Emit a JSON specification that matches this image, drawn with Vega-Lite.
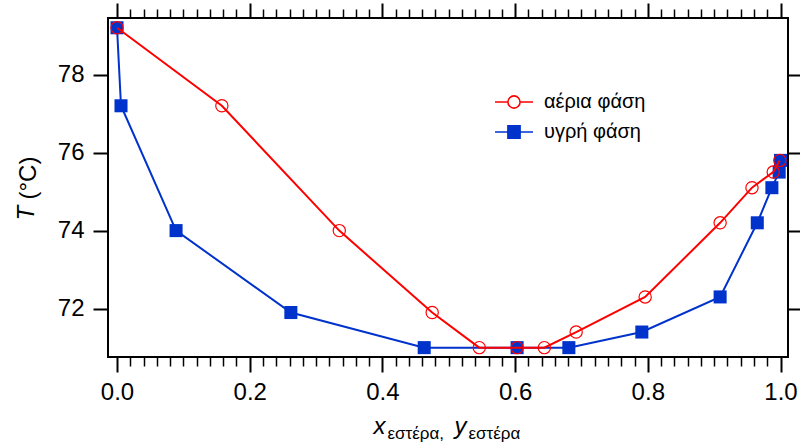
{
  "$schema": "https://vega.github.io/schema/vega-lite/v6.json",
  "width": 680,
  "height": 339,
  "autosize": {"type": "none"},
  "padding": {"left": 108, "top": 18, "right": 12, "bottom": 86},
  "background": "white",
  "config": {
    "view": {"stroke": "black", "strokeWidth": 2},
    "axis": {
      "grid": false,
      "domain": false,
      "tickColor": "black",
      "labelColor": "black",
      "titleColor": "black",
      "labelFont": "Liberation Sans",
      "titleFont": "Liberation Sans",
      "labelFontSize": 24,
      "titleFontSize": 24,
      "titleFontWeight": "normal",
      "labelFlush": false,
      "labelOverlap": false
    }
  },
  "data": {
    "values": [
      {"phase": "αέρια φάση", "x": 0.0, "T": 79.2},
      {"phase": "αέρια φάση", "x": 0.158, "T": 77.2},
      {"phase": "αέρια φάση", "x": 0.335, "T": 74.0},
      {"phase": "αέρια φάση", "x": 0.475, "T": 71.9},
      {"phase": "αέρια φάση", "x": 0.546, "T": 71.0},
      {"phase": "αέρια φάση", "x": 0.603, "T": 71.0},
      {"phase": "αέρια φάση", "x": 0.644, "T": 71.0},
      {"phase": "αέρια φάση", "x": 0.692, "T": 71.4},
      {"phase": "αέρια φάση", "x": 0.796, "T": 72.3},
      {"phase": "αέρια φάση", "x": 0.909, "T": 74.2},
      {"phase": "αέρια φάση", "x": 0.957, "T": 75.1},
      {"phase": "αέρια φάση", "x": 0.989, "T": 75.5},
      {"phase": "αέρια φάση", "x": 0.999, "T": 75.8},
      {"phase": "υγρή φάση", "x": 0.0, "T": 79.2},
      {"phase": "υγρή φάση", "x": 0.006, "T": 77.2},
      {"phase": "υγρή φάση", "x": 0.089, "T": 74.0},
      {"phase": "υγρή φάση", "x": 0.262, "T": 71.9},
      {"phase": "υγρή φάση", "x": 0.463, "T": 71.0},
      {"phase": "υγρή φάση", "x": 0.603, "T": 71.0},
      {"phase": "υγρή φάση", "x": 0.681, "T": 71.0},
      {"phase": "υγρή φάση", "x": 0.791, "T": 71.4},
      {"phase": "υγρή φάση", "x": 0.909, "T": 72.3},
      {"phase": "υγρή φάση", "x": 0.965, "T": 74.2},
      {"phase": "υγρή φάση", "x": 0.987, "T": 75.1},
      {"phase": "υγρή φάση", "x": 0.998, "T": 75.5},
      {"phase": "υγρή φάση", "x": 1.0, "T": 75.8}
    ]
  },
  "layer": [
    {
      "transform": [{"filter": "datum.phase === 'υγρή φάση'"}],
      "mark": {"type": "line", "strokeWidth": 2},
      "encoding": {
        "x": {
          "field": "x", "type": "quantitative",
          "scale": {"domain": [-0.0136, 1.0113], "nice": false, "zero": false},
          "axis": {
            "orient": "bottom", "values": [0, 0.2, 0.4, 0.6, 0.8, 1.0], "format": ".1f",
            "tickSize": 15, "tickWidth": 2, "labelPadding": 8,
            "title": "x", "titleFontStyle": "italic", "titleX": 265, "titleY": 76,
            "titleAlign": "left", "titleBaseline": "alphabetic"
          }
        },
        "y": {
          "field": "T", "type": "quantitative",
          "scale": {"domain": [70.76, 79.45], "nice": false, "zero": false},
          "axis": {
            "orient": "left", "values": [72, 74, 76, 78], "format": "d",
            "tickSize": 15, "tickWidth": 2, "labelPadding": 9,
            "title": "T", "titleFontStyle": "italic", "titleAngle": 270,
            "titleX": -75, "titleY": 202, "titleAlign": "left", "titleBaseline": "alphabetic"
          }
        },
        "color": {
          "field": "phase", "type": "nominal",
          "scale": {"domain": ["αέρια φάση", "υγρή φάση"], "range": ["#ff0000", "#0033cc"]},
          "legend": {
            "orient": "none", "legendX": 386, "legendY": 64, "title": null, "padding": 0,
            "symbolSize": 1444, "labelFontSize": 20, "labelFont": "Liberation Sans",
            "labelColor": "black", "labelOffset": 10, "rowPadding": -11,
            "encode": {
              "symbols": {
                "update": {
                  "shape": {"signal": "datum.value === 'αέρια φάση' ? 'M-1,0L-0.32,0M0.32,0L1,0M0.32,0A0.32,0.32 0 1,1 -0.32,0A0.32,0.32 0 1,1 0.32,0' : 'M-1,0L1,0M-0.32,-0.32L0.32,-0.32L0.32,0.32L-0.32,0.32Z'"},
                  "fill": {"signal": "datum.value === 'αέρια φάση' ? 'transparent' : '#0033cc'"},
                  "stroke": {"signal": "datum.value === 'αέρια φάση' ? '#ff0000' : '#0033cc'"},
                  "strokeWidth": {"value": 1.6},
                  "size": {"value": 1444},
                  "opacity": {"value": 1}
                }
              }
            }
          }
        }
      }
    },
    {
      "transform": [{"filter": "datum.phase === 'υγρή φάση'"}],
      "mark": {"type": "point", "shape": "square", "filled": true, "color": "#0033cc", "size": 170, "opacity": 1},
      "encoding": {
        "x": {
          "field": "x", "type": "quantitative",
          "scale": {"domain": [-0.0136, 1.0113], "nice": false, "zero": false},
          "axis": {
            "orient": "bottom",
            "values": [0.02, 0.04, 0.06, 0.08, 0.1, 0.12, 0.14, 0.16, 0.18, 0.22, 0.24, 0.26, 0.28, 0.3, 0.32, 0.34, 0.36, 0.38, 0.42, 0.44, 0.46, 0.48, 0.5, 0.52, 0.54, 0.56, 0.58, 0.62, 0.64, 0.66, 0.68, 0.7, 0.72, 0.74, 0.76, 0.78, 0.82, 0.84, 0.86, 0.88, 0.9, 0.92, 0.94, 0.96, 0.98],
            "tickSize": 9, "tickWidth": 1.5, "labels": false,
            "title": "εστέρα,", "titleFontSize": 17, "titleX": 279, "titleY": 81,
            "titleAlign": "left", "titleBaseline": "alphabetic"
          }
        },
        "y": {
          "field": "T", "type": "quantitative",
          "scale": {"domain": [70.76, 79.45], "nice": false, "zero": false},
          "axis": {
            "orient": "right", "values": [72, 74, 76, 78],
            "tickSize": 15, "tickWidth": 2, "labels": false,
            "title": "(°C)", "titleAngle": 270,
            "titleX": -753, "titleY": 181, "titleAlign": "left", "titleBaseline": "alphabetic"
          }
        }
      }
    },
    {
      "transform": [{"filter": "datum.phase === 'αέρια φάση'"}],
      "mark": {"type": "line", "strokeWidth": 2, "color": "#ff0000"},
      "encoding": {
        "x": {
          "field": "x", "type": "quantitative",
          "scale": {"domain": [-0.0136, 1.0113], "nice": false, "zero": false},
          "axis": {
            "orient": "top", "values": [0, 0.2, 0.4, 0.6, 0.8, 1.0],
            "tickSize": 15, "tickWidth": 2, "labels": false,
            "title": "y", "titleFontStyle": "italic", "titleX": 346, "titleY": 415,
            "titleAlign": "left", "titleBaseline": "alphabetic"
          }
        },
        "y": {
          "field": "T", "type": "quantitative",
          "scale": {"domain": [70.76, 79.45], "nice": false, "zero": false},
          "axis": null
        }
      }
    },
    {
      "transform": [{"filter": "datum.phase === 'αέρια φάση'"}],
      "mark": {"type": "point", "shape": "circle", "filled": false, "stroke": "#ff0000", "strokeWidth": 1.2, "size": 150, "opacity": 1},
      "encoding": {
        "x": {
          "field": "x", "type": "quantitative",
          "scale": {"domain": [-0.0136, 1.0113], "nice": false, "zero": false},
          "axis": {
            "orient": "top",
            "values": [0.02, 0.04, 0.06, 0.08, 0.1, 0.12, 0.14, 0.16, 0.18, 0.22, 0.24, 0.26, 0.28, 0.3, 0.32, 0.34, 0.36, 0.38, 0.42, 0.44, 0.46, 0.48, 0.5, 0.52, 0.54, 0.56, 0.58, 0.62, 0.64, 0.66, 0.68, 0.7, 0.72, 0.74, 0.76, 0.78, 0.82, 0.84, 0.86, 0.88, 0.9, 0.92, 0.94, 0.96, 0.98],
            "tickSize": 9, "tickWidth": 1.5, "labels": false,
            "title": "εστέρα", "titleFontSize": 17, "titleX": 360, "titleY": 420,
            "titleAlign": "left", "titleBaseline": "alphabetic"
          }
        },
        "y": {
          "field": "T", "type": "quantitative",
          "scale": {"domain": [70.76, 79.45], "nice": false, "zero": false},
          "axis": null
        }
      }
    }
  ],
  "resolve": {"axis": {"x": "independent", "y": "independent"}}
}
